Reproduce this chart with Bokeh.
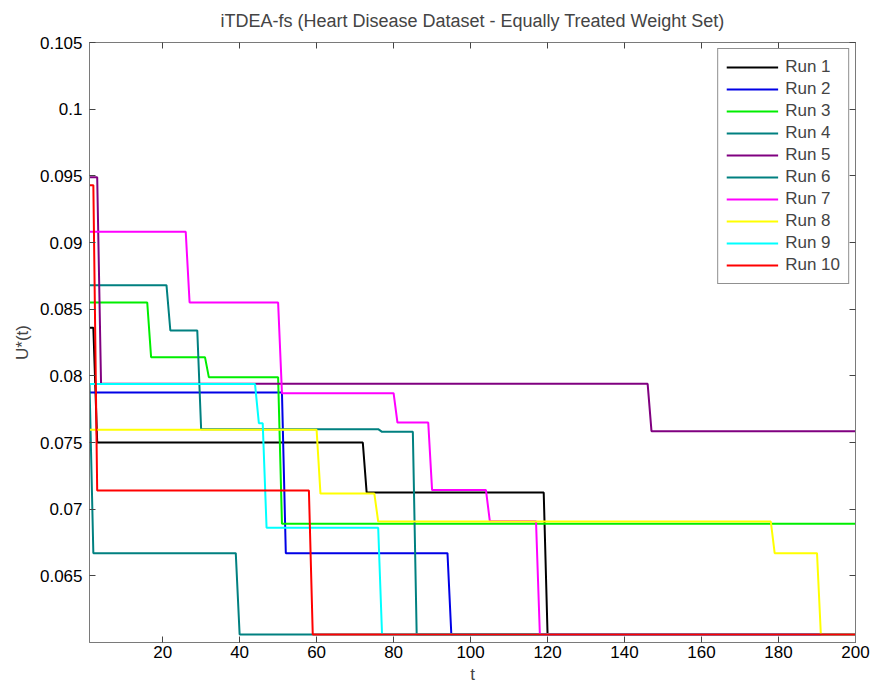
from bokeh.plotting import figure
from bokeh.models import Range1d, FixedTicker, LinearAxis, CustomLabelingPolicy
from bokeh.embed import file_html
from bokeh.resources import INLINE

# ---------------- data ----------------
chart_title = "iTDEA-fs (Heart Disease Dataset - Equally Treated Weight Set)"
x_label = "t"
y_label = "U*(t)"

xtick_vals = [20, 40, 60, 80, 100, 120, 140, 160, 180, 200]
ytick_vals = [0.065, 0.07, 0.075, 0.08, 0.085, 0.09, 0.095, 0.1, 0.105]
ytick_labels = ["0.065", "0.07", "0.075", "0.08", "0.085", "0.09", "0.095", "0.1", "0.105"]

run_names = ["Run 1", "Run 2", "Run 3", "Run 4", "Run 5",
             "Run 6", "Run 7", "Run 8", "Run 9", "Run 10"]
run_colors = ["#000000", "#0000e6", "#00ee00", "#008080", "#800080",
              "#008080", "#ff00ff", "#ffff00", "#00ffff", "#ff0000"]

run1_t = [1, 2, 3, 72, 73, 119, 120, 200]
run1_u = [0.0836, 0.0836, 0.0750, 0.0750, 0.07125, 0.07125, 0.0606, 0.0606]

run2_t = [1, 51, 52, 94, 95, 200]
run2_u = [0.07875, 0.07875, 0.0667, 0.0667, 0.0606, 0.0606]

run3_t = [1, 16, 17, 31, 32, 50, 51, 200]
run3_u = [0.0855, 0.0855, 0.0814, 0.0814, 0.0799, 0.0799, 0.0689, 0.0689]

run4_t = [1, 21, 22, 29, 30, 76, 77, 85, 86, 200]
run4_u = [0.0868, 0.0868, 0.0834, 0.0834, 0.0760, 0.0760, 0.0758, 0.0758, 0.0606, 0.0606]

run5_t = [1, 3, 4, 146, 147, 200]
run5_u = [0.0949, 0.0949, 0.0794, 0.0794, 0.07585, 0.07585]

run6_t = [1, 2, 39, 40, 200]
run6_u = [0.0794, 0.0667, 0.0667, 0.0606, 0.0606]

run7_t = [1, 26, 27, 50, 51, 80, 81, 89, 90, 104, 105, 117, 118, 200]
run7_u = [0.0908, 0.0908, 0.0855, 0.0855, 0.0787, 0.0787, 0.0765, 0.0765,
          0.07143, 0.07143, 0.0691, 0.0691, 0.0606, 0.0606]

run8_t = [1, 60, 61, 75, 76, 178, 179, 190, 191, 200]
run8_u = [0.07595, 0.07595, 0.07117, 0.07117, 0.06907, 0.06907, 0.0667, 0.0667, 0.0606, 0.0606]

run9_t = [1, 44, 45, 46, 47, 76, 77, 200]
run9_u = [0.07938, 0.07938, 0.07645, 0.07645, 0.0686, 0.0686, 0.0606, 0.0606]

run10_t = [1, 2, 3, 58, 59, 200]
run10_u = [0.0943, 0.0943, 0.0714, 0.0714, 0.0606, 0.0606]

runs_t = [run1_t, run2_t, run3_t, run4_t, run5_t, run6_t, run7_t, run8_t, run9_t, run10_t]
runs_u = [run1_u, run2_u, run3_u, run4_u, run5_u, run6_u, run7_u, run8_u, run9_u, run10_u]

# ---------------- figure ----------------
FONT = "Liberation Sans"
AXIS_COL = "#7a7a7a"
FS = "17px"

p = figure(width=873, height=686,
           x_range=Range1d(1, 200), y_range=Range1d(0.06, 0.105),
           output_backend="svg", toolbar_location=None,
           min_border_left=89, min_border_right=18,
           min_border_top=42, min_border_bottom=44,
           title=chart_title)

p.title.align = "center"
p.title.text_font = FONT
p.title.text_font_size = "18px"
p.title.text_font_style = "normal"
p.title.standoff = 16

p.xgrid.visible = False
p.ygrid.visible = False
p.outline_line_color = AXIS_COL
p.background_fill_color = "white"
p.border_fill_color = "white"

yoverrides = {v: s for v, s in zip(ytick_vals, ytick_labels)}

hide_all = CustomLabelingPolicy(code="""
const all = [...indices];
for (const i of all) { indices.unset(i); }
return indices;
""")


def style_axis(ax, ticks, show_labels):
    ax.ticker = FixedTicker(ticks=ticks)
    ax.axis_line_color = AXIS_COL
    ax.major_tick_line_color = "#444444"
    ax.major_tick_in = 6
    ax.major_tick_out = 0
    ax.minor_tick_line_color = None
    ax.major_label_text_font = FONT
    ax.major_label_text_color = "black"
    if show_labels:
        ax.major_label_text_font_size = FS
    else:
        ax.major_label_text_font_size = "1px"
        ax.major_label_standoff = 0
        ax.major_label_policy = hide_all


xa = p.xaxis[0]
style_axis(xa, xtick_vals, True)
xa.major_label_standoff = 3
xa.axis_label = x_label
xa.axis_label_text_font = FONT
xa.axis_label_text_font_size = FS
xa.axis_label_text_font_style = "normal"
xa.axis_label_standoff = 4

ya = p.yaxis[0]
style_axis(ya, ytick_vals, True)
ya.major_label_overrides = yoverrides
ya.major_label_standoff = 7
ya.axis_label = y_label
ya.axis_label_text_font = FONT
ya.axis_label_text_font_size = FS
ya.axis_label_text_font_style = "normal"
ya.axis_label_standoff = 5

top_ax = LinearAxis()
style_axis(top_ax, xtick_vals, False)
p.add_layout(top_ax, "above")

right_ax = LinearAxis()
style_axis(right_ax, ytick_vals, False)
p.add_layout(right_ax, "right")

for name, col, tt, uu in zip(run_names, run_colors, runs_t, runs_u):
    p.line(tt, uu, line_color=col, line_width=2, legend_label=name)

lg = p.legend[0]
lg.location = "top_right"
lg.label_text_font = FONT
lg.label_text_font_size = FS
lg.glyph_width = 52
lg.glyph_height = 20
lg.label_height = 20
lg.label_standoff = 7
lg.padding = 8
lg.spacing = 2
lg.margin = 6
lg.border_line_color = "#222222"
lg.border_line_width = 1
lg.background_fill_color = "white"
lg.background_fill_alpha = 1.0

open("out.html", "w").write(file_html(p, INLINE))
